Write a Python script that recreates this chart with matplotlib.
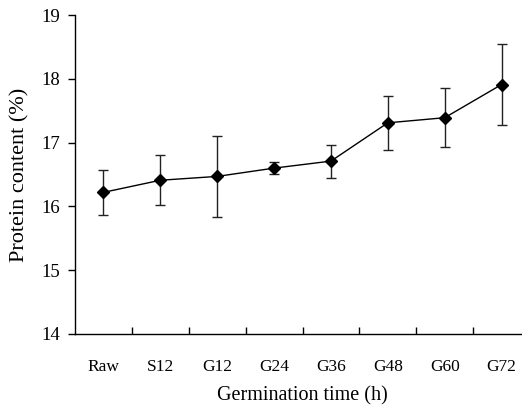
import matplotlib
matplotlib.use("Agg")
import matplotlib.pyplot as plt
import numpy as np

categories = ["Raw", "S12", "G12", "G24", "G36", "G48", "G60", "G72"]
protein = [16.22, 16.41, 16.47, 16.60, 16.71, 17.31, 17.39, 17.91]
err = [0.35, 0.39, 0.63, 0.09, 0.26, 0.42, 0.46, 0.63]
yticks = [14, 15, 16, 17, 18, 19]

plt.rcParams['font.family'] = ['Liberation Serif', 'DejaVu Serif']

fig = plt.figure(figsize=(5.22, 4.07), dpi=100)
W, H = 522, 407
left, right, top, bottom = 75, 530, 15, 334
ax = fig.add_axes([left / W, 1 - bottom / H, (right - left) / W, (bottom - top) / H])

x = np.arange(len(categories))
ax.errorbar(x, protein, yerr=err, fmt='-', color='black', lw=1.0,
            marker='D', markersize=6.5, ecolor='#222222', elinewidth=1.0,
            capsize=3.5, capthick=1.0)

ax.set_xlim(-0.5, len(categories) - 0.5)
ax.set_ylim(14, 19)
ax.set_yticks(yticks)
ax.set_yticklabels([str(t) for t in yticks], fontsize=13.5)
ax.set_xticks(x)
ax.set_xticklabels(categories, fontsize=12.5)
ax.tick_params(axis='x', length=0, pad=18)
ax.set_xticks(np.arange(0.5, len(categories) - 0.5, 1), minor=True)
ax.tick_params(axis='x', which='minor', direction='in', length=5, width=1)
ax.tick_params(axis='y', direction='out', length=5, width=1, pad=6)

for s in ['top', 'right']:
    ax.spines[s].set_visible(False)
for s in ['left', 'bottom']:
    ax.spines[s].set_linewidth(1.0)

ax.set_xlabel("Germination time (h)", fontsize=14.5, labelpad=8)
ax.set_ylabel("Protein content (%)", fontsize=16, labelpad=8)

fig.savefig("out.png", dpi=100)
